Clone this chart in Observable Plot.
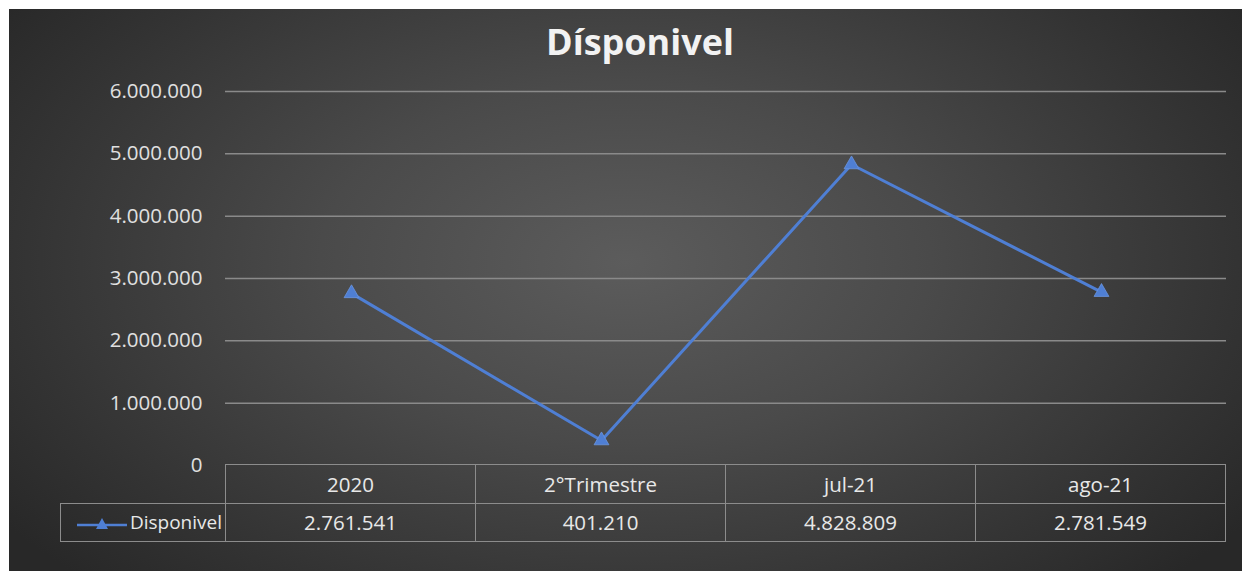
<!DOCTYPE html>
<html>
<head>
<meta charset="utf-8">
<script src="https://cdn.jsdelivr.net/npm/d3@7"></script>
<script src="https://cdn.jsdelivr.net/npm/@observablehq/plot@0.6"></script>
<style>
  html, body { margin: 0; padding: 0; background: #fff; }
  #wrap { position: relative; width: 1242px; height: 571px; overflow: hidden; background: #fff; font-family: "Open Sans", sans-serif; }
  #bg { position: absolute; left: 9px; top: 9px; width: 1233px; height: 562px;
        background: radial-gradient(ellipse 62% 80% at 50% 45%, #5c5c5c 0%, #4a4a4a 40%, #333333 80%, #282828 100%); }
  #title { position: absolute; left: 19px; width: 1242px; top: 19px; text-align: center; color: #f2f2f2; font-weight: bold; font-size: 36px; line-height: 46px; }
  #chart { position: absolute; left: 0; top: 0; }
  #table { position: absolute; left: 60px; top: 464px; border-collapse: collapse; color: #e8e8e8; font-size: 20.5px; }
  #table td { height: 38.5px; padding: 0; text-align: center; border: 1.5px solid #8c8c8c; box-sizing: border-box; }
  #table td.blank { border: none; border-right: 1.5px solid #8c8c8c; }
  #table td.leg { width: 165px; text-align: right; padding-right: 3px; white-space: nowrap; font-size: 19px; }
  #table td.val { width: 250px; }
</style>
</head>
<body>
<div id="wrap">
  <div id="bg"></div>
  <div id="chart"></div>
  <div id="title"></div>
  <table id="table"></table>
</div>
<script>
const titleText = "Dísponivel";
const seriesName = "Disponivel";
const categories = ["2020", "2°Trimestre", "jul-21", "ago-21"];
const values = [2761541, 401210, 4828809, 2781549];
const yTicks = [0, 1000000, 2000000, 3000000, 4000000, 5000000, 6000000];

const lineColor = "#4f7fd4";
const ptFormat = d3.formatLocale({decimal: ",", thousands: ".", grouping: [3], currency: ["", ""]}).format(",d");

const data = categories.map((c, i) => ({cat: c, val: values[i]}));

document.getElementById("title").textContent = titleText;

const plot = Plot.plot({
  width: 1242,
  height: 571,
  marginTop: 91,
  marginBottom: 106,
  marginLeft: 225,
  marginRight: 16,
  style: {background: "transparent", fontFamily: "Open Sans, sans-serif", overflow: "visible"},
  x: {type: "point", domain: categories, padding: 0.5, axis: null},
  y: {domain: [0, 6000000], ticks: yTicks, axis: null},
  marks: [
    Plot.ruleY(yTicks.filter(d => d > 0), {stroke: "#8a8a8a", strokeWidth: 1.5}),
    Plot.axisY(yTicks, {tickSize: 0, tickPadding: 23, fontSize: 20.5, fill: "#e0e0e0", tickFormat: ptFormat, label: null}),
    Plot.line(data, {x: "cat", y: "val", stroke: lineColor, strokeWidth: 3}),
    Plot.dot(data, {x: "cat", y: "val", symbol: "triangle", fill: lineColor, stroke: "#6b95e0", strokeWidth: 0.8, r: 5.5})
  ]
});
document.getElementById("chart").appendChild(plot);

// data table below the plot
const table = document.getElementById("table");
const r1 = table.insertRow();
const b = r1.insertCell(); b.className = "blank leg";
categories.forEach(c => { const td = r1.insertCell(); td.className = "val"; td.textContent = c; });
const r2 = table.insertRow();
const leg = r2.insertCell(); leg.className = "leg";
leg.innerHTML = `<svg width="52" height="16" style="vertical-align:middle;margin-right:2px"><line x1="1" y1="9" x2="51" y2="9" stroke="${lineColor}" stroke-width="2.5"/><path d="M26,2 L32,13 L20,13 Z" fill="${lineColor}"/></svg>`;
leg.appendChild(document.createTextNode(seriesName));
values.forEach(v => { const td = r2.insertCell(); td.className = "val"; td.textContent = ptFormat(v); });
</script>
</body>
</html>
